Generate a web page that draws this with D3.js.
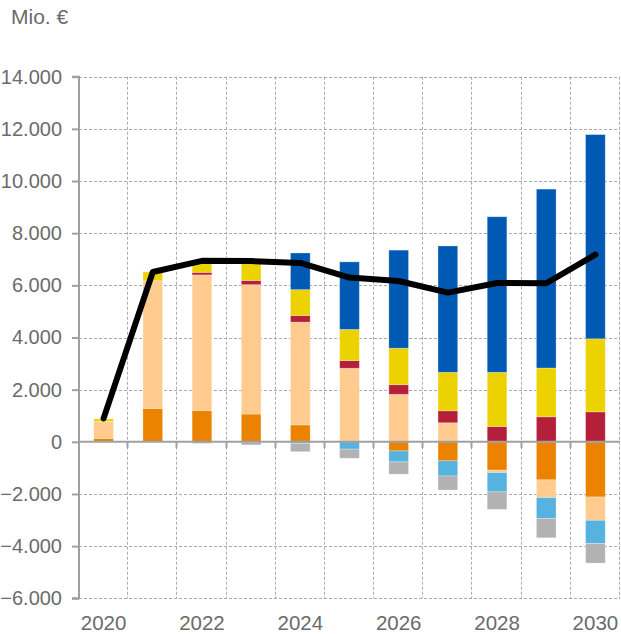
<!DOCTYPE html>
<html>
<head>
<meta charset="utf-8">
<script src="https://cdn.jsdelivr.net/npm/d3@7"></script>
<style>
  html, body { margin: 0; padding: 0; background: #fff; }
  text { font-family: "Liberation Sans", Arial, sans-serif; }
</style>
</head>
<body>
<svg id="chart" width="621" height="634"></svg>
<script>
const years = ["2020","2021","2022","2023","2024","2025","2026","2027","2028","2029","2030"];
const xTickLabels = ["2020","2022","2024","2026","2028","2030"];
const yTicks = [-6000,-4000,-2000,0,2000,4000,6000,8000,10000,12000,14000];

// series values (Mio. €)
const orange    = [130, 1280, 1205, 1065, 650,   30, -350, -730, -1090, -1460, -2115];
const peach     = [650, 4885, 5195, 4960, 3940, 2790, 1820,  730,   -90,  -680,  -895];
const red       = [0,     20,  100,  165,  255,  295,  370,  460,   590,   960,  1150];
const yellow    = [100,  335,  380,  690,  990, 1195, 1400, 1475,  2075,  1870,  2800];
const blue      = [0,      0,    0,   50, 1405, 2590, 3760, 4845,  5965,  6860,  7830];
const lightBlue = [0,      0,    0,  -20,  -60, -280, -420, -580,  -740,  -795,  -890];
const grey      = [0,      0,  -60, -100, -320, -350, -470, -540,  -670,  -745,  -750];
const total     = [900, 6510, 6940, 6930, 6860, 6300, 6165, 5720, 6090, 6080, 7180];

const seriesNames = ["orange","peach","red","yellow","blue","lightBlue","grey"];
const seriesData = {orange, peach, red, yellow, blue, lightBlue, grey};
const colors = {
  orange: "#EB8300", peach: "#FFCB8F", red: "#B41F3A", yellow: "#ECD300",
  blue: "#005AB4", lightBlue: "#56B2DF", grey: "#B1B2B1"
};

const rows = years.map((yr, i) => {
  const r = {year: yr};
  seriesNames.forEach(s => r[s] = seriesData[s][i]);
  return r;
});

const svg = d3.select("#chart");
const mLeft = 79, mRight = 620, mTop = 76.7, mBottom = 598.3;

const x = d3.scaleBand().domain(years).range([mLeft, mRight]).paddingInner(0.6).paddingOuter(0.3);
const xb = d3.scaleBand().domain(years).range([mLeft, mRight]);
const y = d3.scaleLinear().domain([-6000, 14000]).range([mBottom, mTop]);

const gridColor = "#ABABAB";
const axisColor = "#A0A0A0";
const textColor = "#6B6B6B";

// horizontal grid
svg.append("g").selectAll("line").data(yTicks.filter(d => d !== 0)).join("line")
  .attr("x1", mLeft).attr("x2", mRight)
  .attr("y1", d => Math.round(y(d)) + 0.5).attr("y2", d => Math.round(y(d)) + 0.5)
  .attr("stroke", gridColor).attr("stroke-width", 1).attr("stroke-dasharray", "3,2");

// vertical grid at category boundaries
const bounds = years.slice(1).map(d => xb(d)).concat([mRight]);
svg.append("g").selectAll("line").data(bounds).join("line")
  .attr("x1", d => Math.round(d) - 0.5).attr("x2", d => Math.round(d) - 0.5)
  .attr("y1", mTop).attr("y2", mBottom)
  .attr("stroke", gridColor).attr("stroke-width", 1).attr("stroke-dasharray", "3,2");

// stacked bars
const stack = d3.stack().keys(seriesNames).offset(d3.stackOffsetDiverging);
const stacked = stack(rows);
svg.append("g").selectAll("g").data(stacked).join("g")
  .attr("fill", d => colors[d.key])
  .selectAll("rect").data(d => d).join("rect")
  .attr("x", d => x(d.data.year))
  .attr("width", x.bandwidth())
  .attr("y", d => y(Math.max(d[0], d[1])))
  .attr("height", d => Math.abs(y(d[0]) - y(d[1])))
  .attr("stroke", "rgba(255,255,255,0.35)")
  .attr("stroke-width", 0.8);

// y axis
const yAxis = d3.axisLeft(y).tickValues(yTicks).tickSize(7).tickPadding(10)
  .tickFormat(d => d3.format(",")(d).replace(/,/g, "."));
const gy = svg.append("g").attr("transform", `translate(${mLeft},0)`).call(yAxis);
gy.select(".domain").attr("stroke", axisColor).attr("stroke-width", 2)
  .attr("d", `M-7,${y(14000)}H0V${y(-6000)}H-7`);
gy.selectAll(".tick line").attr("stroke", axisColor).attr("stroke-width", 2);
gy.selectAll(".tick text").attr("fill", textColor).style("font-size", "20px")
  .style("font-family", "'Liberation Sans', Arial, sans-serif");

// zero line + x ticks
svg.append("line").attr("x1", mLeft).attr("x2", mRight)
  .attr("y1", y(0)).attr("y2", y(0)).attr("stroke", axisColor).attr("stroke-width", 2);
svg.append("g").selectAll("line").data(bounds.slice(0, -1)).join("line")
  .attr("x1", d => Math.round(d) - 0.5).attr("x2", d => Math.round(d) - 0.5)
  .attr("y1", y(0)).attr("y2", y(0) + 6)
  .attr("stroke", axisColor).attr("stroke-width", 2);

// x labels
svg.append("g").selectAll("text").data(xTickLabels).join("text")
  .attr("x", d => xb(d) + xb.bandwidth() / 2)
  .attr("y", 630)
  .attr("text-anchor", "middle")
  .attr("fill", textColor).style("font-size", "20.5px")
  .text(d => d);

// total line
const line = d3.line().x((d, i) => xb(years[i]) + xb.bandwidth() / 2).y(d => y(d));
svg.append("path").datum(total)
  .attr("d", line).attr("fill", "none")
  .attr("stroke", "#000").attr("stroke-width", 6)
  .attr("stroke-linejoin", "round").attr("stroke-linecap", "round");

// unit label
svg.append("text").attr("x", 11).attr("y", 23.5)
  .attr("fill", textColor).style("font-size", "21px").text("Mio. €");
</script>
</body>
</html>
